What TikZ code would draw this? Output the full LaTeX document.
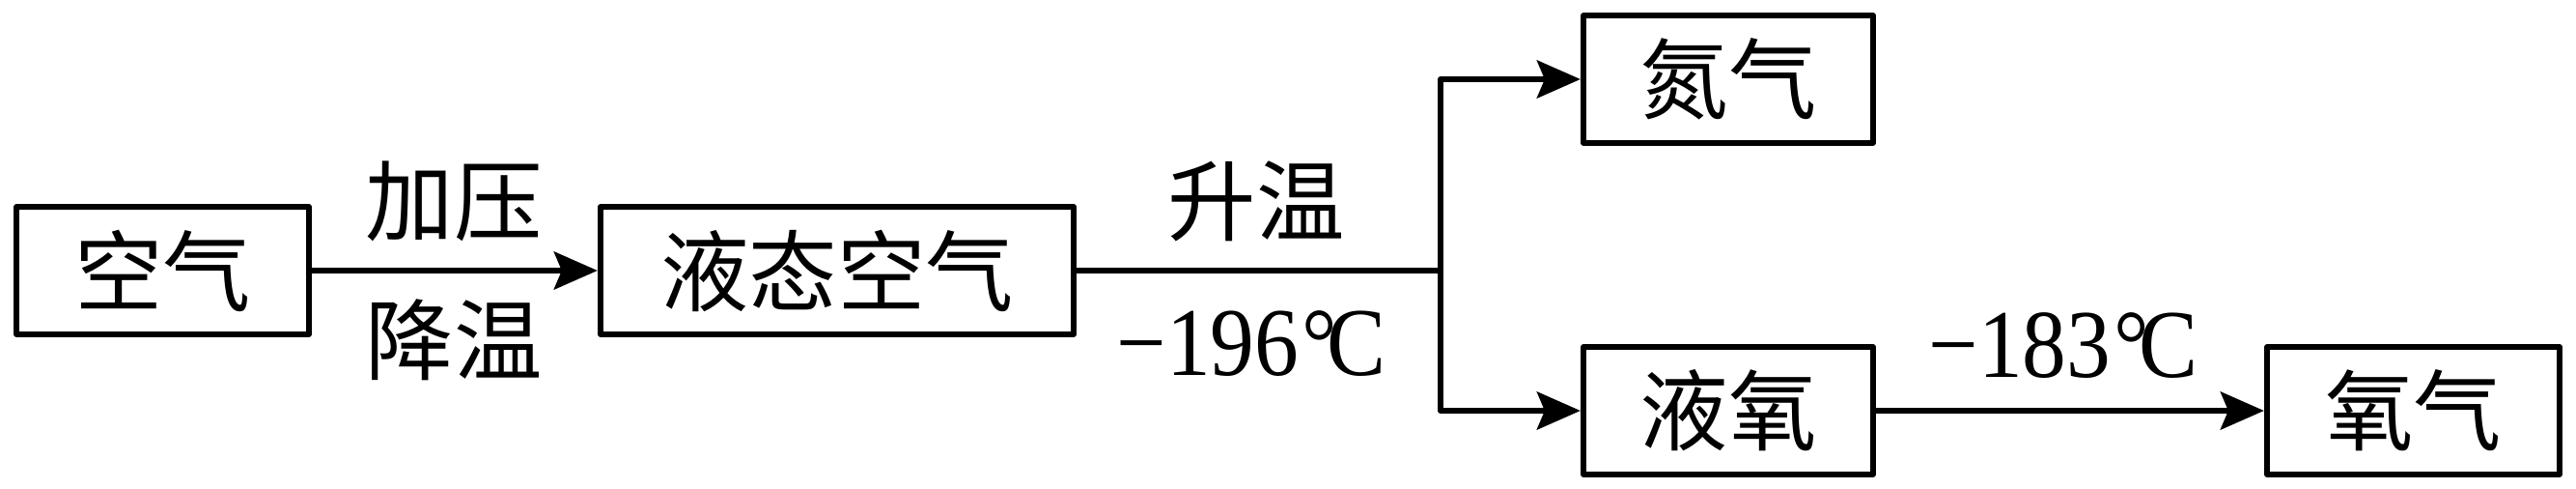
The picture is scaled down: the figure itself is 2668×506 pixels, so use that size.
\documentclass[tikz,border=0pt]{standalone}
\usepackage{fontspec}
\setmainfont{Liberation Serif}
\newfontfamily\cjk{Noto Sans CJK SC}
\usetikzlibrary{arrows.meta}
\newcommand{\tallnum}[1]{\scalebox{1}[1.1]{#1}}
\begin{document}
\begin{tikzpicture}[x=0.01cm,y=-0.01cm,
  every node/.style={font=\fontsize{26}{30}\selectfont},
  box/.style={draw, line width=0.06cm, line join=round, inner sep=0pt, minimum height=1.31cm, font=\fontsize{26}{30}\selectfont\cjk},
  lbl/.style={inner sep=0pt, font=\fontsize{26}{30}\selectfont\cjk},
  num/.style={inner sep=0pt, font=\fontsize{26}{30}\selectfont},
  conn/.style={line width=0.06cm, line join=round},
  arr/.style={conn, -{Stealth[length=0.45cm, width=0.39cm, inset=0.08cm]}}]
\useasboundingbox (0,0) rectangle (2668,506);
\node[box, minimum width=3.03cm] (kq) at (168.5,280) {空气};
\node[box, minimum width=4.90cm] (ytkq) at (867,280) {液态空气};
\node[box, minimum width=3.00cm] (dq) at (1790,82) {氮气};
\node[box, minimum width=3.00cm] (yy) at (1790,425) {液氧};
\node[box, minimum width=3.03cm] (yq) at (2499.5,425) {氧气};
\coordinate (br) at (1492,280);
\draw[arr] (kq) -- (ytkq);
\draw[conn] (ytkq.east) -- (br);
\draw[arr] (br) |- (dq.west);
\draw[arr] (br) |- (yy.west);
\draw[arr] (yy) -- (yq);
\node[lbl] (l1) at (470,208) {加压};
\node[lbl] (l2) at (470,352) {降温};
\node[lbl] (l3) at (1301,208) {升温};
\node[num] (l4) at (1296,356) {\tallnum{−196\kern0.04em°\kern-0.12emC}};
\node[num] (l5) at (2137,358) {\tallnum{−183\kern0.04em°\kern-0.12emC}};
\end{tikzpicture}
\end{document}
